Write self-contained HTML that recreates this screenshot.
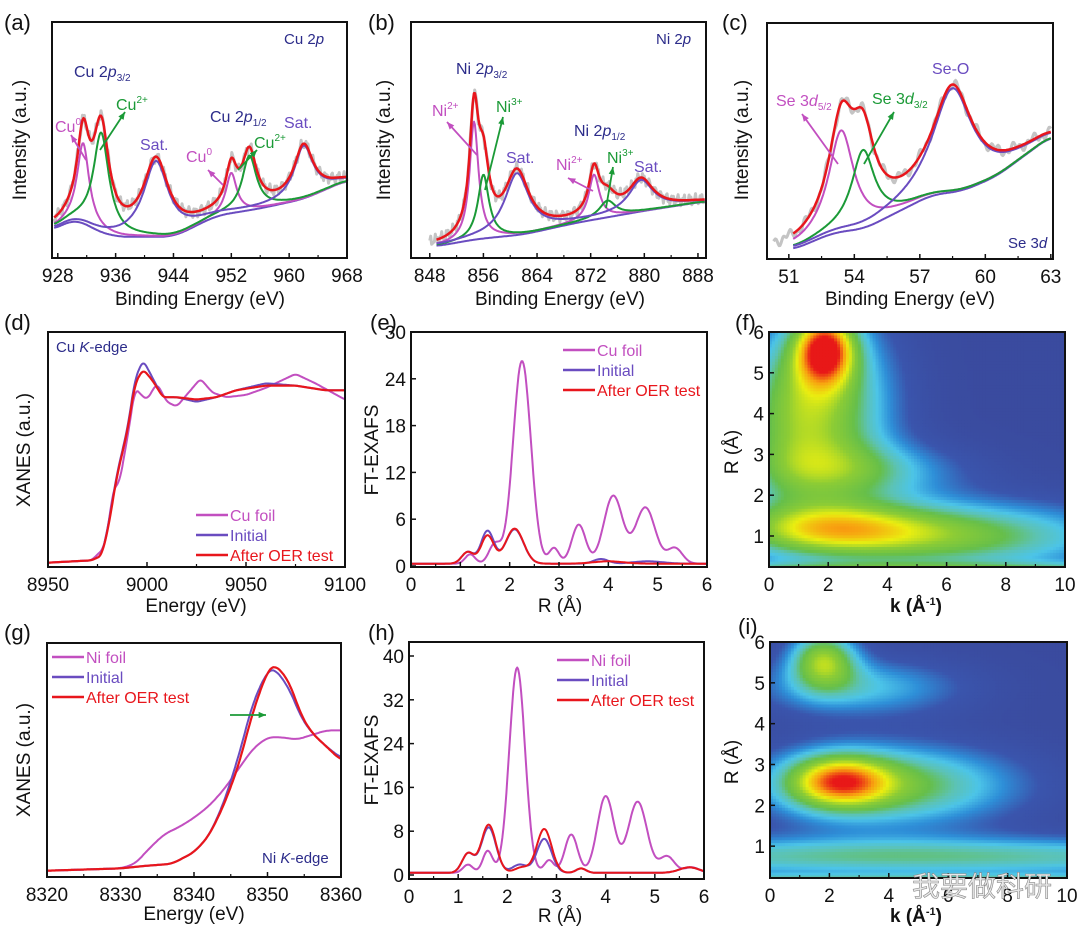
<!DOCTYPE html>
<html><head><meta charset="utf-8">
<style>
html,body{margin:0;padding:0;background:#fff;}
svg{display:block;font-family:"Liberation Sans","Noto Sans CJK SC",sans-serif;}
</style></head>
<body>
<svg id="fig" width="1080" height="936" viewBox="0 0 1080 936" xmlns="http://www.w3.org/2000/svg"></svg>
<script>
// ---------- DATA ----------
const cuX = [927.2, 968];
const cuBg = [[927.5,0.12],[930.5,0.17],[933,0.12],[936,0.09],[944,0.09],[950,0.18],[956,0.21],[962,0.25],[968,0.33]];
const cuCu0 = [[931.5,0.34,1.0],[952,0.17,0.9]];
const cuCu2 = [[934,0.42,1.3],[954.5,0.23,1.2]];
const cuSat = [[941.6,0.32,2.1],[962,0.22,1.6]];
const niX = [845.2, 889.2];
const niBg = [[849,0.05],[855,0.08],[862,0.1],[870,0.15],[880,0.2],[889,0.24]];
const niNi2 = [[854.6,0.5,0.8],[872.5,0.19,0.95]];
const niNi3 = [[856,0.27,1.0],[874.5,0.07,1.5]];
const niSat = [[861,0.26,2.2],[879.5,0.13,2.2]];
const seX = [50, 63.1];
const seBg = [[51.2,0.04],[53,0.11],[54.5,0.13],[56,0.2],[57.5,0.27],[59,0.29],[60.5,0.35],[63,0.52]];
const se52 = [[53.4,0.43,0.7]];
const se32 = [[54.4,0.33,0.65]];
const seO = [[58.5,0.44,1.1]];
const cuFoilXanes = [[8950,0.01],[8972,0.02],[8978,0.07],[8980,0.14],[8983,0.33],[8986,0.35],[8990,0.54],[8994,0.76],[8997,0.73],[9000,0.71],[9005,0.78],[9010,0.7],[9015,0.68],[9020,0.73],[9027,0.8],[9033,0.74],[9040,0.72],[9050,0.73],[9060,0.76],[9075,0.82],[9085,0.78],[9100,0.71]];
const cuInitXanes = [[8950,0.01],[8972,0.02],[8977,0.04],[8980,0.15],[8985,0.4],[8990,0.58],[8994,0.8],[8998,0.88],[9003,0.8],[9008,0.72],[9015,0.72],[9025,0.7],[9035,0.72],[9045,0.75],[9060,0.78],[9075,0.77],[9090,0.75],[9100,0.75]];
const cuAfterXanes = [[8950,0.01],[8972,0.02],[8977,0.04],[8980,0.14],[8985,0.39],[8990,0.57],[8994,0.78],[8998,0.84],[9003,0.79],[9008,0.72],[9015,0.72],[9025,0.71],[9035,0.72],[9045,0.75],[9060,0.77],[9075,0.77],[9090,0.75],[9100,0.75]];
const cuFoilFT = [[1.2,1.2,0.1],[1.7,2.5,0.12],[2.25,26,0.18],[2.9,2,0.1],[3.4,5,0.14],[4.1,8.7,0.19],[4.75,7.2,0.2],[5.35,2,0.15]];
const cuInitFT = [[1.15,1.5,0.12],[1.55,4.2,0.13],[2.1,4.4,0.18],[3.85,0.6,0.15],[4.8,0.3,0.3]];
const cuAfterFT = [[1.15,1.5,0.12],[1.55,3.6,0.13],[2.1,4.5,0.18],[4,0.3,0.3]];
const niFoilXanes = [[8320,0.01],[8330,0.02],[8332,0.04],[8334,0.11],[8336,0.17],[8338,0.2],[8340,0.24],[8342,0.29],[8344,0.36],[8346,0.45],[8348,0.54],[8350,0.59],[8352,0.59],[8354,0.58],[8356,0.6],[8358,0.62],[8360,0.62]];
const niInitXanes = [[8320,0.01],[8330,0.02],[8333,0.03],[8337,0.04],[8340,0.09],[8342,0.16],[8344,0.3],[8346,0.5],[8348,0.74],[8350,0.88],[8351,0.89],[8353,0.8],[8354.5,0.68],[8356,0.61],[8358,0.55],[8360,0.5]];
const niAfterXanes = [[8320,0.01],[8330,0.02],[8333,0.03],[8337,0.04],[8340,0.09],[8342,0.16],[8344,0.29],[8346,0.46],[8348,0.7],[8350,0.88],[8351,0.91],[8353,0.83],[8354.5,0.69],[8356,0.61],[8358,0.55],[8360,0.49]];
const niFoilFT = [[1.2,1.5,0.1],[1.6,4,0.1],[2.2,37.5,0.16],[2.85,2.3,0.1],[3.3,7,0.13],[4,14,0.17],[4.65,13,0.19],[5.25,3,0.15],[5.75,1,0.15]];
const niInitFT = [[1.2,3.5,0.12],[1.62,8.3,0.15],[2.25,1.5,0.15],[2.75,6.2,0.15],[3.5,0.8,0.1],[5.7,1,0.2]];
const niAfterFT = [[1.2,3.5,0.12],[1.62,8.8,0.15],[2.3,1,0.15],[2.75,8,0.15],[3.5,0.8,0.1],[5.7,1,0.2]];
const wtF = [[1.9,5.6,0.75,0.7,0.6],[2,4.2,0.5,1.6,1.6],[0.5,3.8,0.25,1.2,1.5],[2,1.2,0.45,2.5,0.45],[6,1.0,0.5,4,0.6],[3,2.6,0.3,2.5,0.5],[5,0.15,0.35,20,0.15]];
const wtI = [[2.3,2.6,0.6,1.2,0.45],[4,2.5,0.5,3,0.7],[1.8,5.6,0.55,0.8,0.5],[3,4.9,0.3,2.5,0.5],[5,0.75,0.4,12,0.35],[5,0.15,0.35,20,0.12]];

const C = {red:'#e8161c',mag:'#c24fc0',pur:'#6a4cc0',grn:'#1b9a37',blu:'#2f6fc0',gray:'#c4c4c4',navy:'#2c2c8a'};
const NS='http://www.w3.org/2000/svg';
const svg=document.getElementById('fig');
function el(tag,attrs,parent){const e=document.createElementNS(NS,tag);for(const k in attrs)e.setAttribute(k,attrs[k]);(parent||svg).appendChild(e);return e;}
function txt(x,y,s,attrs,name){const t=el('text',Object.assign({x:x,y:y,'font-size':17,fill:'#111'},attrs||{}));t.innerHTML=s;


return t;}
function scale(d0,d1,p0,p1){return v=>p0+(v-d0)/(d1-d0)*(p1-p0);}
function interp(pts,x){if(x<=pts[0][0])return pts[0][1];for(let i=1;i<pts.length;i++){if(x<=pts[i][0]){const a=pts[i-1],b=pts[i];return a[1]+(b[1]-a[1])*(x-a[0])/(b[0]-a[0]);}}return pts[pts.length-1][1];}
function smooth(pts,x,h){let s=0;for(let i=-4;i<=4;i++)s+=interp(pts,x+i*h/4);return s/9;}
function lor(peaks,x){let s=0;for(const p of peaks)s+=p[1]/(1+((x-p[0])/p[2])**2);return s;}
function gau(peaks,x){let s=0;for(const p of peaks)s+=p[1]*Math.exp(-((x-p[0])**2)/(2*p[2]*p[2]));return s;}
function path(fn,x0,x1,sx,sy,color,w,name){let d='';const n=300;for(let i=0;i<=n;i++){const x=x0+(x1-x0)*i/n;d+=(i?'L':'M')+sx(x).toFixed(1)+','+sy(fn(x)).toFixed(1);}
const p=el('path',{d:d,fill:'none',stroke:color,'stroke-width':w,'stroke-linejoin':'round'});


return p;}
function frame(b,name){const r=el('rect',{x:b[0],y:b[1],width:b[2]-b[0],height:b[3]-b[1],fill:'none',stroke:'#111','stroke-width':2});

}
function xticks(b,sx,ticks,minor){for(const t of ticks){el('line',{x1:sx(t),x2:sx(t),y1:b[3],y2:b[3]-5,stroke:'#111','stroke-width':1.5});txt(sx(t),b[3]+24,String(t),{'text-anchor':'middle','font-size':19},'x-tick-label');}
if(minor)for(const t of minor)el('line',{x1:sx(t),x2:sx(t),y1:b[3],y2:b[3]-3,stroke:'#111','stroke-width':1.2});}
function yticks(b,sy,ticks){for(const t of ticks){el('line',{x1:b[0],x2:b[0]+5,y1:sy(t),y2:sy(t),stroke:'#111','stroke-width':1.5});txt(b[0]-5,sy(t)+7,String(t),{'text-anchor':'end','font-size':19},'y-tick-label');}}
function ylab(x,y,s,name){txt(x,y,s,{transform:`rotate(-90 ${x} ${y})`,'text-anchor':'middle','font-size':19},name);}
function legend(x,y,items){items.forEach((it,i)=>{const yy=y+i*20;el('line',{x1:x,x2:x+32,y1:yy,y2:yy,stroke:it[1],'stroke-width':2.5});txt(x+34,yy+6,it[0],{fill:it[1],'font-size':16},'legend-entry');});}
function arrow(x1,y1,x2,y2,c){el('line',{x1:x1,y1:y1,x2:x2,y2:y2,stroke:c,'stroke-width':1.8});const a=Math.atan2(y2-y1,x2-x1),L=8;
el('polygon',{points:`${x2},${y2} ${x2-L*Math.cos(a-0.4)},${y2-L*Math.sin(a-0.4)} ${x2-L*Math.cos(a+0.4)},${y2-L*Math.sin(a+0.4)}`,fill:c});}

function xps(b,dom,bg,comps){const sx=scale(dom[0],dom[1],b[0],b[2]),sy=scale(0,1,b[3],b[1]);
const x0=bg[0][0],x1=bg[bg.length-1][0];const h=(dom[1]-dom[0])*0.04;
const base=x=>smooth(bg,x,h);
const total=x=>base(x)+comps.reduce((s,c)=>s+lor(c[0],x),0);
path(x=>total(x)+0.015*Math.sin(x*7.3)+0.012*Math.sin(x*19.1),Math.max(dom[0]+0.3,x0-1),x1,sx,sy,C.gray,3,'raw-data');
path(base,x0,x1,sx,sy,C.pur,2,'background');
for(const c of comps)path(x=>base(x)+lor(c[0],x),x0,x1,sx,sy,c[1],2,c[2]);
path(total,x0,x1,sx,sy,C.red,2.5,'fit-envelope');return [sx,sy];}

// ---------- Panel a ----------
let b=[52,22,347,258];
let [sx,sy]=xps(b,cuX,cuBg,[[cuCu0,C.mag,'cu0-peak'],[cuCu2,C.grn,'cu2-peak'],[cuSat,C.pur,'sat-peak']]);
frame(b,'panel-a-frame');xticks(b,sx,[928,936,944,952,960,968],[932,940,948,956,964]);
txt(4,30,'(a)',{'font-size':22},'panel-label-a');ylab(26,140,'Intensity (a.u.)','y-axis-title');
txt(200,305,'Binding Energy (eV)',{'text-anchor':'middle','font-size':19},'x-axis-title');
txt(284,44,'Cu 2<tspan font-style="italic">p</tspan>',{fill:C.navy,'font-size':15},'element-label');
txt(74,77,'Cu 2<tspan font-style="italic">p</tspan><tspan font-size="10" dy="4">3/2</tspan>',{fill:C.navy,'font-size':16});
txt(55,132,'Cu<tspan font-size="10" dy="-7">0</tspan>',{fill:C.mag,'font-size':16});
txt(116,110,'Cu<tspan font-size="10" dy="-7">2+</tspan>',{fill:C.grn,'font-size':16});
txt(140,150,'Sat.',{fill:C.pur,'font-size':16});txt(186,162,'Cu<tspan font-size="10" dy="-7">0</tspan>',{fill:C.mag,'font-size':16});
txt(210,122,'Cu 2<tspan font-style="italic">p</tspan><tspan font-size="10" dy="4">1/2</tspan>',{fill:C.navy,'font-size':16});
txt(254,148,'Cu<tspan font-size="10" dy="-7">2+</tspan>',{fill:C.grn,'font-size':16});txt(284,128,'Sat.',{fill:C.pur,'font-size':16});
arrow(86,160,71,135,C.mag);arrow(100,150,125,112,C.grn);arrow(223,185,208,170,C.mag);arrow(238,170,257,150,C.grn);

// ---------- Panel b ----------
b=[411,22,706,258];
[sx,sy]=xps(b,niX,niBg,[[niNi2,C.mag,'ni2-peak'],[niNi3,C.grn,'ni3-peak'],[niSat,C.pur,'sat-peak']]);
frame(b,'panel-b-frame');xticks(b,sx,[848,856,864,872,880,888],[852,860,868,876,884]);
txt(368,30,'(b)',{'font-size':22},'panel-label-b');ylab(390,140,'Intensity (a.u.)','y-axis-title');
txt(560,305,'Binding Energy (eV)',{'text-anchor':'middle','font-size':19},'x-axis-title');
txt(656,44,'Ni 2<tspan font-style="italic">p</tspan>',{fill:C.navy,'font-size':15},'element-label');
txt(456,74,'Ni 2<tspan font-style="italic">p</tspan><tspan font-size="10" dy="4">3/2</tspan>',{fill:C.navy,'font-size':16});
txt(432,116,'Ni<tspan font-size="10" dy="-7">2+</tspan>',{fill:C.mag,'font-size':16});txt(496,112,'Ni<tspan font-size="10" dy="-7">3+</tspan>',{fill:C.grn,'font-size':16});
txt(506,163,'Sat.',{fill:C.pur,'font-size':16});
txt(574,136,'Ni 2<tspan font-style="italic">p</tspan><tspan font-size="10" dy="4">1/2</tspan>',{fill:C.navy,'font-size':16});
txt(556,170,'Ni<tspan font-size="10" dy="-7">2+</tspan>',{fill:C.mag,'font-size':16});txt(607,163,'Ni<tspan font-size="10" dy="-7">3+</tspan>',{fill:C.grn,'font-size':16});
txt(634,172,'Sat.',{fill:C.pur,'font-size':16});
arrow(477,155,447,122,C.mag);arrow(485,190,503,117,C.grn);arrow(593,191,568,178,C.mag);arrow(606,208,613,167,C.grn);

// ---------- Panel c ----------
b=[767,23,1053,259];
[sx,sy]=xps(b,seX,seBg,[[se52,C.mag,'se3d52-peak'],[se32,C.grn,'se3d32-peak'],[seO,C.pur,'se-o-peak']]);
frame(b,'panel-c-frame');xticks(b,sx,[51,54,57,60,63],[52.5,55.5,58.5,61.5]);
txt(722,30,'(c)',{'font-size':22},'panel-label-c');ylab(748,140,'Intensity (a.u.)','y-axis-title');
txt(910,305,'Binding Energy (eV)',{'text-anchor':'middle','font-size':19},'x-axis-title');
txt(1008,248,'Se 3<tspan font-style="italic">d</tspan>',{fill:C.navy,'font-size':15},'element-label');
txt(776,106,'Se 3<tspan font-style="italic">d</tspan><tspan font-size="10" dy="4">5/2</tspan>',{fill:C.mag,'font-size':16});
txt(872,104,'Se 3<tspan font-style="italic">d</tspan><tspan font-size="10" dy="4">3/2</tspan>',{fill:C.grn,'font-size':16});
txt(932,74,'Se-O',{fill:C.pur,'font-size':16});
arrow(838,164,802,114,C.mag);arrow(864,164,894,112,C.grn);

// ---------- Panel d ----------
b=[48,332,345,567];sx=scale(8950,9100,b[0],b[2]);sy=scale(0,1,b[3]-2,b[1]);
path(x=>smooth(cuFoilXanes,x,1.5),8950,9100,sx,sy,C.mag,2,'cu-foil-line');
path(x=>smooth(cuInitXanes,x,1.5),8950,9100,sx,sy,C.pur,2,'initial-line');
path(x=>smooth(cuAfterXanes,x,1.5),8950,9100,sx,sy,C.red,2.2,'after-oer-line');
frame(b,'panel-d-frame');xticks(b,sx,[8950,9000,9050,9100],[8975,9025,9075]);
txt(4,330,'(d)',{'font-size':22},'panel-label-d');ylab(30,450,'XANES (a.u.)','y-axis-title');
txt(196,612,'Energy (eV)',{'text-anchor':'middle','font-size':19},'x-axis-title');
txt(56,352,'Cu <tspan font-style="italic">K</tspan>-edge',{fill:C.navy,'font-size':15},'edge-label');
legend(196,515,[['Cu foil',C.mag],['Initial',C.pur],['After OER test',C.red]]);

// ---------- Panel e ----------
b=[411,332,707,567];sx=scale(0,6,b[0],b[2]);sy=scale(0,30,566,332);
path(x=>0.3+gau(cuFoilFT,x),0,6,sx,sy,C.mag,2,'cu-foil-line');
path(x=>0.3+gau(cuInitFT,x),0,6,sx,sy,C.pur,2,'initial-line');
path(x=>0.3+gau(cuAfterFT,x),0,6,sx,sy,C.red,2,'after-oer-line');
frame(b,'panel-e-frame');xticks(b,sx,[0,1,2,3,4,5,6],[0.5,1.5,2.5,3.5,4.5,5.5]);yticks(b,sy,[0,6,12,18,24,30]);
txt(370,330,'(e)',{'font-size':22},'panel-label-e');ylab(378,450,'FT-EXAFS','y-axis-title');
txt(560,612,'R (Å)',{'text-anchor':'middle','font-size':19},'x-axis-title');
legend(563,350,[['Cu foil',C.mag],['Initial',C.pur],['After OER test',C.red]]);

// ---------- heatmap ----------
const cmap=[[0,'#3a4b9f'],[0.12,'#3a55ad'],[0.22,'#2e8fd8'],[0.3,'#4cc4e8'],[0.38,'#5cc3b4'],[0.47,'#66bf4a'],[0.6,'#8ccc35'],[0.73,'#eaee10'],[0.86,'#f8a010'],[1,'#e81818']];
function hex(h){return [1,3,5].map(i=>parseInt(h.substr(i,2),16));}
function col(v){v=Math.max(0,Math.min(1,v));for(let i=1;i<cmap.length;i++)if(v<=cmap[i][0]){const a=cmap[i-1],c=cmap[i],t=(v-a[0])/(c[0]-a[0]);const A=hex(a[1]),B=hex(c[1]);return 'rgb('+A.map((x,j)=>Math.round(x+(B[j]-x)*t)).join(',')+')';}return cmap[cmap.length-1][1];}
function heat(b,r0,blobs,name){const sx=scale(0,10,b[0],b[2]),sy=scale(r0,6,b[3],b[1]);const g=el('g',{});


const nk=100,nr=80;const dk=10/nk,dr=(6-r0)/nr;
for(let i=0;i<nk;i++)for(let j=0;j<nr;j++){const k=(i+0.5)*dk,R=r0+(j+0.5)*dr;let v=0;for(const p of blobs)v+=p[2]*Math.exp(-((k-p[0])**2)/(2*p[3]*p[3])-((R-p[1])**2)/(2*p[4]*p[4]));
el('rect',{x:sx(i*dk).toFixed(1),y:sy(R+dr/2).toFixed(1),width:(sx(dk)-sx(0)+0.6).toFixed(1),height:(sy(0)-sy(dr)+0.6).toFixed(1),fill:col(v)},g);}
frame(b,name+'-frame');return [sx,sy];}
b=[769,332,1065,567];[sx,sy]=heat(b,0.24,wtF,'wavelet-f');
xticks(b,sx,[0,2,4,6,8,10],[1,3,5,7,9]);yticks(b,sy,[1,2,3,4,5,6]);
txt(735,330,'(f)',{'font-size':22},'panel-label-f');ylab(738,452,'R (Å)','y-axis-title');
txt(916,612,'k (Å<tspan font-size="11" dy="-7">-1</tspan><tspan dy="7">)</tspan>',{'text-anchor':'middle','font-size':19,'font-weight':'bold'},'x-axis-title');

// ---------- Panel g ----------
b=[47,643,341,877];sx=scale(8320,8360,b[0],b[2]);sy=scale(0,1,b[3]-4,b[1]);
path(x=>smooth(niFoilXanes,x,0.8),8320,8360,sx,sy,C.mag,2,'ni-foil-line');
path(x=>smooth(niInitXanes,x,0.8),8320,8360,sx,sy,C.pur,2,'initial-line');
path(x=>smooth(niAfterXanes,x,0.8),8320,8360,sx,sy,C.red,2.2,'after-oer-line');
frame(b,'panel-g-frame');xticks(b,sx,[8320,8330,8340,8350,8360],[8325,8335,8345,8355]);
txt(4,640,'(g)',{'font-size':22},'panel-label-g');ylab(30,760,'XANES (a.u.)','y-axis-title');
txt(194,920,'Energy (eV)',{'text-anchor':'middle','font-size':19},'x-axis-title');
txt(262,863,'Ni <tspan font-style="italic">K</tspan>-edge',{fill:C.navy,'font-size':15},'edge-label');
legend(52,657,[['Ni foil',C.mag],['Initial',C.pur],['After OER test',C.red]]);
arrow(230,715,266,715,C.grn);

// ---------- Panel h ----------
b=[409,642,704,879];sx=scale(0,6,b[0],b[2]);sy=scale(0,40,875,656);
path(x=>0.4+gau(niFoilFT,x),0,6,sx,sy,C.mag,2,'ni-foil-line');
path(x=>0.4+gau(niInitFT,x),0,6,sx,sy,C.pur,2,'initial-line');
path(x=>0.4+gau(niAfterFT,x),0,6,sx,sy,C.red,2,'after-oer-line');
frame(b,'panel-h-frame');xticks(b,sx,[0,1,2,3,4,5,6],[0.5,1.5,2.5,3.5,4.5,5.5]);yticks(b,sy,[0,8,16,24,32,40]);
txt(368,640,'(h)',{'font-size':22},'panel-label-h');ylab(378,760,'FT-EXAFS','y-axis-title');
txt(560,922,'R (Å)',{'text-anchor':'middle','font-size':19},'x-axis-title');
legend(557,660,[['Ni foil',C.mag],['Initial',C.pur],['After OER test',C.red]]);

// ---------- Panel i ----------
b=[770,642,1067,878];[sx,sy]=heat(b,0.22,wtI,'wavelet-i');
xticks(b,sx,[0,2,4,6,8,10],[1,3,5,7,9]);yticks(b,sy,[1,2,3,4,5,6]);
txt(738,634,'(i)',{'font-size':22},'panel-label-i');ylab(738,762,'R (Å)','y-axis-title');
txt(916,922,'k (Å<tspan font-size="11" dy="-7">-1</tspan><tspan dy="7">)</tspan>',{'text-anchor':'middle','font-size':19,'font-weight':'bold'},'x-axis-title');
txt(912,896,'我要做科研',{'font-size':28,fill:'#e8e8e8',stroke:'#888','stroke-width':0.6,'font-family':'"Noto Sans CJK SC",sans-serif'},'watermark');
</script>
</body></html>
